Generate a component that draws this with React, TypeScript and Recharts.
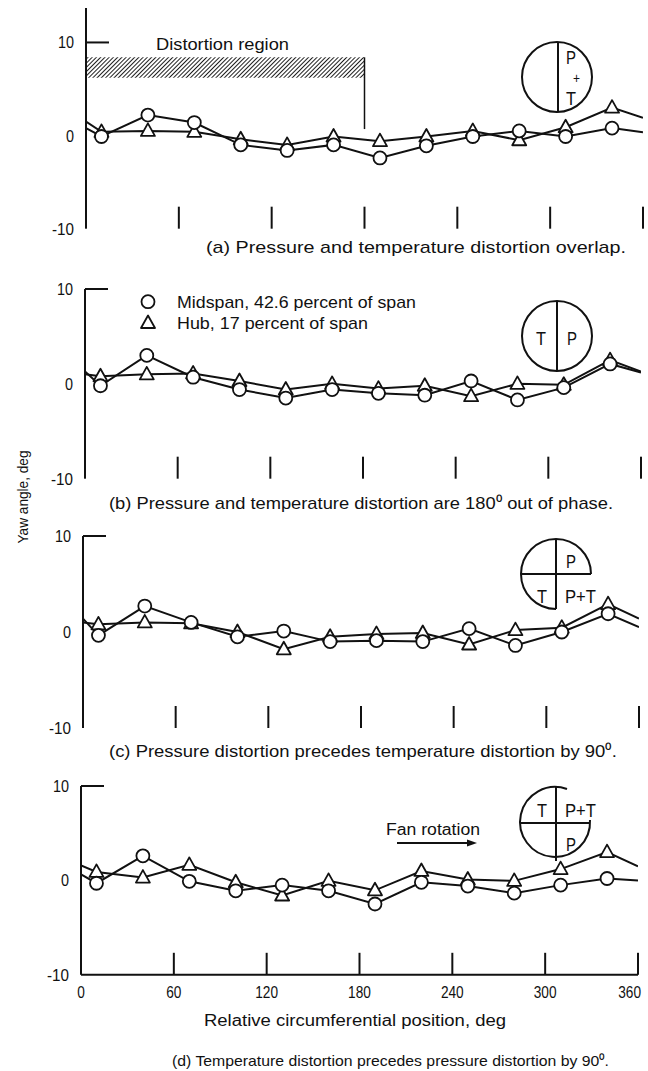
import React from 'react'
import { LineChart, Line, XAxis, YAxis, ReferenceLine, ReferenceArea } from 'recharts'

const FONT = '"Liberation Sans Narrow", "Liberation Sans", Arial, sans-serif'
const INK = '#111'

// circumferential stations, deg (0 and 360 are the wrap-around line ends, drawn without a symbol)
const positions = [0, 10, 40, 70, 100, 130, 160, 190, 220, 250, 280, 310, 340, 360]
const xTicks = [0, 60, 120, 180, 240, 300, 360]
const yTicks = [-10, 0, 10]

// yaw angle, deg — midspan (42.6 percent of span, circles) and hub (17 percent of span, triangles)
// (a) pressure and temperature distortion overlap
const midA = [0.8, -0.1, 2.2, 1.4, -1.0, -1.6, -1.0, -2.4, -1.1, -0.1, 0.5, -0.1, 0.8, 0.35]
const hubA = [1.5, 0.4, 0.5, 0.4, -0.4, -1.0, -0.1, -0.6, -0.1, 0.5, -0.5, 0.9, 3.0, 1.9]
// (b) 180 deg out of phase
const midB = [1.3, -0.2, 3.0, 0.7, -0.6, -1.5, -0.6, -1.0, -1.2, 0.3, -1.7, -0.4, 2.1, 1.2]
const hubB = [1.0, 0.8, 1.0, 1.1, 0.3, -0.6, 0.0, -0.5, -0.2, -1.3, 0.0, -0.1, 2.5, 1.3]
// (c) pressure precedes temperature by 90 deg
const midC = [1.4, -0.35, 2.7, 1.0, -0.5, 0.1, -1.0, -0.9, -1.0, 0.35, -1.4, 0.0, 1.9, 0.5]
const hubC = [1.0, 0.8, 1.0, 0.9, 0.0, -1.8, -0.5, -0.2, -0.1, -1.3, 0.2, 0.45, 2.9, 1.4]
// (d) temperature precedes pressure by 90 deg
const midD = [0.65, -0.3, 2.6, -0.1, -1.1, -0.5, -1.1, -2.5, -0.2, -0.6, -1.35, -0.5, 0.2, 0.0]
const hubD = [1.6, 0.9, 0.3, 1.65, -0.2, -1.6, -0.05, -1.05, 1.0, 0.1, -0.05, 1.2, 3.0, 1.5]

const isEdge = (x: number) => x === 0 || x === 360

function CircleDot(props: any) {
  const { cx, cy, payload, index } = props
  if (isEdge(payload.x)) return <g key={`c${index}`} />
  return <circle key={`c${index}`} cx={cx} cy={cy} r={6.5} fill="#fff" stroke={INK} strokeWidth={1.8} />
}

function TriangleDot(props: any) {
  const { cx, cy, payload, index } = props
  if (isEdge(payload.x)) return <g key={`t${index}`} />
  return (
    <polygon
      key={`t${index}`}
      points={`${cx},${cy - 7.5} ${cx - 7},${cy + 5} ${cx + 7},${cy + 5}`}
      fill="#fff"
      stroke={INK}
      strokeWidth={1.8}
      strokeLinejoin="round"
    />
  )
}

function YTick(props: any) {
  const { x, y, payload } = props
  const s = payload.value < 0 ? `-${Math.abs(payload.value)}` : String(payload.value)
  const w = s.replace('-', '').length * 8 + (payload.value < 0 ? 6 : 0)
  return (
    <text x={x} y={y} dy="0.35em" textAnchor="end" fontSize={17} fontFamily={FONT} fill={INK}
      textLength={w} lengthAdjust="spacingAndGlyphs">
      {s}
    </text>
  )
}

function XTick(props: any) {
  const { x, y, payload } = props
  const s = String(payload.value)
  const last = payload.value === 360
  return (
    <text x={last ? x + 3 : x} y={y} dy="0.71em" textAnchor={last ? 'end' : 'middle'} fontSize={17}
      fontFamily={FONT} fill={INK} textLength={s.length * 7.6} lengthAdjust="spacingAndGlyphs">
      {s}
    </text>
  )
}

type PanelProps = {
  mid: number[]
  hub: number[]
  left: number
  right: number
  top: number
  bottom: number
  yMax: number
  xLabels?: boolean
  children?: React.ReactNode
}

function Panel({ mid, hub, left, right, top, bottom, yMax, xLabels, children }: PanelProps) {
  const data = positions.map((x, i) => ({ x, mid: mid[i], hub: hub[i] }))
  const mt = 12
  const mb = 12
  const xh = xLabels ? 28 : 0
  const plotH = bottom - top
  const perUnit = plotH / (yMax + 10)
  const perDeg = (right - left) / 360
  const tickTop = -10 + 22 / perUnit
  const cornerEnd = 23 / perDeg

  return (
    <div style={{ position: 'absolute', left: 0, top: top - mt }}>
      <LineChart
        width={648}
        height={mt + plotH + xh + mb}
        data={data}
        margin={{ top: mt, right: 648 - right, bottom: mb, left: 0 }}
      >
        <XAxis
          type="number"
          dataKey="x"
          domain={[0, 360]}
          ticks={xTicks}
          interval={0}
          allowDataOverflow
          height={xh}
          axisLine={{ stroke: INK, strokeWidth: 2 }}
          tickLine={false}
          tickMargin={5}
          tick={xLabels ? (p: any) => <XTick {...p} /> : false}
        />
        <YAxis
          type="number"
          domain={[-10, yMax]}
          ticks={yTicks}
          interval={0}
          allowDataOverflow
          width={left}
          axisLine={{ stroke: INK, strokeWidth: 2 }}
          tickLine={false}
          tickMargin={6}
          tick={(p: any) => <YTick {...p} />}
        />
        {children}
        {xTicks.slice(1).map((t) => (
          <ReferenceLine key={t} segment={[{ x: t, y: -10 }, { x: t, y: tickTop }]} stroke={INK} strokeWidth={2} />
        ))}
        <ReferenceLine segment={[{ x: 0, y: 10 }, { x: cornerEnd, y: 10 }]} stroke={INK} strokeWidth={2} />
        <Line
          type="linear"
          dataKey="hub"
          stroke={INK}
          strokeWidth={2}
          dot={TriangleDot}
          activeDot={false}
          isAnimationActive={false}
        />
        <Line
          type="linear"
          dataKey="mid"
          stroke={INK}
          strokeWidth={2}
          dot={CircleDot}
          activeDot={false}
          isAnimationActive={false}
        />
      </LineChart>
    </div>
  )
}

function T({ x, y, w, size = 17, anchor = 'start', children, transform }: any) {
  return (
    <text x={x} y={y} fontSize={size} fontFamily={FONT} fill={INK} textAnchor={anchor}
      textLength={w} lengthAdjust="spacingAndGlyphs" transform={transform}>
      {children}
    </text>
  )
}

function Overlay() {
  const sw = 2
  return (
    <svg width={648} height={1071} style={{ position: 'absolute', left: 0, top: 0, pointerEvents: 'none' }}>
      {/* panel (a) */}
      <T x={156} y={50} w={133}>Distortion region</T>
      <circle cx={557} cy={77} r={35} fill="none" stroke={INK} strokeWidth={sw} />
      <line x1={558} y1={42} x2={558} y2={112} stroke={INK} strokeWidth={sw} />
      <T x={566} y={64} size={19} w={10}>P</T>
      <T x={573} y={83} size={14} w={7}>+</T>
      <T x={566} y={105} size={19} w={10}>T</T>
      <T x={206} y={253} w={420}>(a) Pressure and temperature distortion overlap.</T>

      {/* panel (b) */}
      <circle cx={148} cy={301.7} r={6.5} fill="#fff" stroke={INK} strokeWidth={1.8} />
      <T x={177} y={307.5} w={239}>Midspan, 42.6 percent of span</T>
      <polygon points="148,315.5 141,328 155,328" fill="#fff" stroke={INK} strokeWidth={1.8} strokeLinejoin="round" />
      <T x={177} y={329} w={191}>Hub, 17 percent of span</T>
      <circle cx={557} cy={336} r={35} fill="none" stroke={INK} strokeWidth={sw} />
      <line x1={557} y1={301} x2={557} y2={371} stroke={INK} strokeWidth={sw} />
      <T x={536} y={345} size={19} w={10}>T</T>
      <T x={567} y={345} size={19} w={10}>P</T>
      <T x={109} y={509} w={504}>(b) Pressure and temperature distortion are 180⁰ out of phase.</T>

      {/* panel (c) */}
      <path d="M 591 574 A 35 35 0 1 0 556 609" fill="none" stroke={INK} strokeWidth={sw} />
      <line x1={521} y1={574} x2={591} y2={574} stroke={INK} strokeWidth={sw} />
      <line x1={556} y1={539} x2={556} y2={609} stroke={INK} strokeWidth={sw} />
      <T x={566} y={568} size={19} w={10}>P</T>
      <T x={537} y={603} size={19} w={10}>T</T>
      <T x={565} y={603} size={19} w={31}>P+T</T>
      <T x={109} y={757} w={508}>(c) Pressure distortion precedes temperature distortion by 90⁰.</T>

      {/* panel (d) */}
      <T x={386} y={835} size={16} w={94}>Fan rotation</T>
      <line x1={397} y1={843} x2={469} y2={843} stroke={INK} strokeWidth={1.8} />
      <polygon points="477,843 467,839.5 467,846.5" fill={INK} />
      <path d="M 590 820 A 35 35 0 1 1 567 789" fill="none" stroke={INK} strokeWidth={sw} />
      <line x1={521} y1={823} x2={590} y2={823} stroke={INK} strokeWidth={sw} />
      <line x1={556} y1={786} x2={556} y2={861} stroke={INK} strokeWidth={sw} />
      <T x={537} y={817} size={19} w={10}>T</T>
      <T x={565} y={817} size={19} w={31}>P+T</T>
      <T x={566} y={851} size={19} w={10}>P</T>
      <T x={355} y={1026} size={16} w={302} anchor="middle">Relative circumferential position, deg</T>
      <T x={172} y={1066} size={15} w={437}>(d) Temperature distortion precedes pressure distortion by 90⁰.</T>

      {/* shared y label */}
      <T x={0} y={0} size={15} w={93} anchor="middle" transform="translate(28 497) rotate(-90)">Yaw angle, deg</T>
    </svg>
  )
}

export default function App() {
  return (
    <div style={{ position: 'absolute', left: 0, top: 0, width: 648, height: 1071, background: '#fff' }}>
      <svg width={0} height={0} style={{ position: 'absolute' }}>
        <defs>
          <pattern id="hatch" width={3} height={3} patternUnits="userSpaceOnUse" patternTransform="rotate(45)">
            <line x1={0} y1={0} x2={0} y2={3} stroke={INK} strokeWidth={1.9} />
          </pattern>
        </defs>
      </svg>
      <Panel mid={midA} hub={hubA} left={86} right={643} top={8} bottom={228.7} yMax={13.7}>
        <ReferenceArea x1={0} x2={180} y1={6.2} y2={8.4} fill="url(#hatch)" fillOpacity={1} stroke="none" />
        <ReferenceLine segment={[{ x: 180, y: 8.4 }, { x: 180, y: 0.7 }]} stroke={INK} strokeWidth={1.5} />
      </Panel>
      <Panel mid={midB} hub={hubB} left={85} right={641} top={289} bottom={478.7} yMax={10} />
      <Panel mid={midC} hub={hubC} left={83} right={639} top={536} bottom={728} yMax={10} />
      <Panel mid={midD} hub={hubD} left={81} right={638} top={785.7} bottom={974.5} yMax={10} xLabels />
      <Overlay />
    </div>
  )
}
